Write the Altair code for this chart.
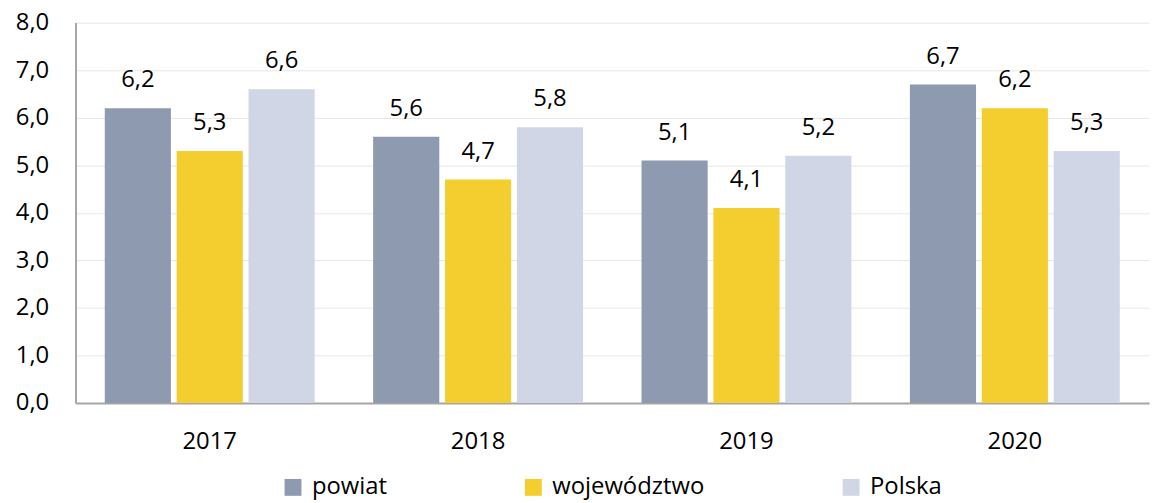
import altair as alt
import pandas as pd

years = ["2017", "2018", "2019", "2020"]
series = ["powiat", "województwo", "Polska"]
powiat = [6.2, 5.6, 5.1, 6.7]
wojewodztwo = [5.3, 4.7, 4.1, 6.2]
polska = [6.6, 5.8, 5.2, 5.3]
colors = ["#8E9AB0", "#F4CD2E", "#D0D6E5"]

rows = []
for i, y in enumerate(years):
    for s, vals in zip(series, [powiat, wojewodztwo, polska]):
        rows.append({"rok": y, "seria": s, "wartosc": vals[i],
                     "etykieta": f"{vals[i]:.1f}".replace(".", ",")})
df = pd.DataFrame(rows)

FONT = "Open Sans"
FS = 24

base = alt.Chart(df).encode(
    x=alt.X("rok:N", sort=years, title=None,
            scale=alt.Scale(paddingInner=0.218, paddingOuter=0.109),
            axis=alt.Axis(labelAngle=0, labelFontSize=FS, labelFont=FONT, labelColor="#000000",
                          ticks=False, domainColor="#A6A6A6", domainWidth=2, labelPadding=27,
                          labelBaseline="top")),
    xOffset=alt.XOffset("seria:N", sort=series, scale=alt.Scale(paddingInner=0.08)),
)

bars = base.mark_bar().encode(
    y=alt.Y("wartosc:Q", title=None,
            scale=alt.Scale(domain=[0, 8]),
            axis=alt.Axis(values=[0, 1, 2, 3, 4, 5, 6, 7, 8],
                          labelExpr="replace(format(datum.value, '.1f'), '.', ',')",
                          labelFontSize=FS, labelFont=FONT, labelColor="#000000", ticks=False,
                          domainColor="#A6A6A6", domainWidth=2, gridColor="#E6E6E6", gridWidth=1,
                          labelPadding=27)),
    color=alt.Color("seria:N", sort=series, title=None,
                    scale=alt.Scale(domain=series, range=colors),
                    legend=alt.Legend(orient="none", legendX=207, legendY=456,
                                      direction="horizontal", symbolType="square",
                                      symbolSize=289, symbolStrokeWidth=0, labelFontSize=FS,
                                      labelFont=FONT, labelColor="#000000", columnPadding=135,
                                      labelOffset=7, padding=0)),
)

labels = base.mark_text(baseline="alphabetic", dy=-21, fontSize=FS, font=FONT, color="#000000").encode(
    y=alt.Y("wartosc:Q"),
    text="etykieta:N",
)

chart = (bars + labels).properties(
    width=1081, height=383,
    padding={"left": 68, "top": 13, "right": 4, "bottom": 99},
    autosize=alt.AutoSizeParams(type="none"),
).configure_view(stroke=None).configure_axis(grid=True).configure_axisX(grid=False)

chart.save("out.html", embed_options={"renderer": "svg", "actions": False})
